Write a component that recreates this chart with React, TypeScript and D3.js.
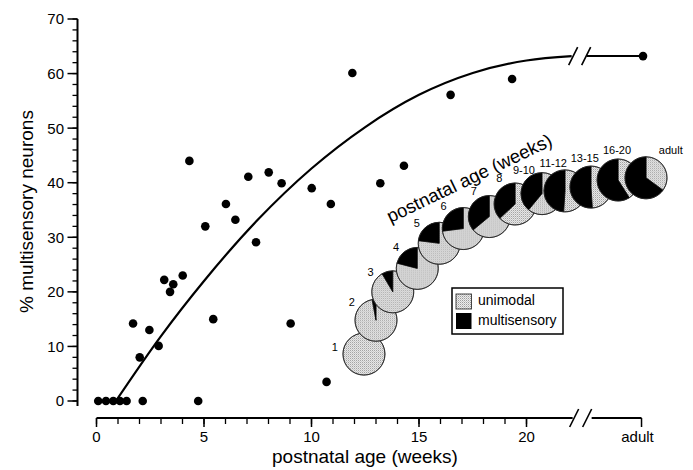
import * as d3 from "d3";
import React from "react";

// scatter points: postnatal age (weeks) and % multisensory neurons
const weeks = [0.08, 0.44, 0.78, 1.09, 1.4, 1.7, 2.01, 2.15, 2.46, 2.89, 3.15, 3.42, 3.57, 4.01, 4.32, 4.73, 5.06, 5.43, 6.02, 6.46, 7.06, 7.42, 8.01, 8.61, 9.03, 10.01, 10.7, 10.9, 11.9, 13.2, 14.3, 16.47, 19.33];
const percent = [0, 0, 0, 0, 0, 14.2, 8, 0, 13, 10.1, 22.2, 20, 21.4, 23, 44, 0, 32, 15, 36.1, 33.2, 41.1, 29.1, 41.9, 39.9, 14.2, 39, 3.5, 36.1, 60.1, 39.9, 43.1, 56.1, 59];
const adultPercent = 63.2;

// fitted curve
const fitWeeks = [0.9, 3, 5, 7.5, 10, 12.5, 15, 17.5, 20, 22.1];
const fitPercent = [0, 11.9, 22, 33.2, 42.6, 50.2, 56.1, 60.1, 62.4, 63.2];

// pie inset
const pieLabels = ["1", "2", "3", "4", "5", "6", "7", "8", "9-10", "11-12", "13-15", "16-20", "adult"];
const pieMultisensory = [0, 3, 8.5, 21, 23, 27, 36, 37, 39, 49, 51, 59, 65];

// ticks
const yMajor = [0, 10, 20, 30, 40, 50, 60, 70];
const xMajor = [0, 5, 10, 15, 20];

// inset placement (axis units), and direction of each label from its pie (degrees)
const pieAtWeek = [12.44, 13.0, 13.78, 14.92, 15.94, 17.06, 18.27, 19.47, 20.72, 21.79, 23.0, 24.26, 25.56];
const pieAtPct = [8.6, 14.8, 20.0, 24.3, 28.9, 31.6, 33.8, 36.1, 38.0, 38.5, 39.2, 40.5, 40.9];
const labelAngle = [194, 216, 222, 225, 222, 229, 239, 238, 233, 247, 258, 268, 312];

const FONT = "'Liberation Sans', Arial, sans-serif";

export default function App() {
    const width = 693, height = 470;
    const x = d3.scaleLinear().domain([0, 20]).range([96.5, 526.5]);
    const y = d3.scaleLinear().domain([0, 70]).range([401, 19]);
    const BREAK = 22.1;   // where the axis is broken
    const ADULT = 25.35;  // where "adult" sits after the break
    const xb = x(BREAK);
    const xa = x(ADULT);
    const axisY = 418;
    const axisX = 77.5;
    const r = 21;

    const line = d3.line<number>()
        .x(i => x(fitWeeks[i]))
        .y(i => y(fitPercent[i]))
        .curve(d3.curveMonotoneX);
    const fitPath = line(fitWeeks.map((_, i) => i)) || "";

    const pie = d3.pie<number>().sort(null).value(d => d);
    const arc = d3.arc<d3.PieArcDatum<number>>().innerRadius(0).outerRadius(r);

    // pie centres in pixels
    const centres = pieAtWeek.map((w, i) => [x(w), y(pieAtPct[i])]);

    const yMinor = d3.range(0, 71, 2);
    const xMinor = d3.range(0, 21, 1);

    const slash = (cx: number, cy: number, k: string) => (
        <g key={k}>
            <line x1={cx - 2} y1={cy + 9} x2={cx + 7} y2={cy - 9} stroke="#000" strokeWidth={1.6} />
            <line x1={cx + 11} y1={cy + 9} x2={cx + 20} y2={cy - 9} stroke="#000" strokeWidth={1.6} />
        </g>
    );

    return (
        <svg width={width} height={height} style={{ position: "absolute", left: 0, top: 0, background: "#fff" }}
            fontFamily={FONT}>
            <defs>
                <pattern id="stipple" width="2" height="2" patternUnits="userSpaceOnUse">
                    <rect width="2" height="2" fill="#ececec" />
                    <rect x="0" y="0" width="1" height="1" fill="#9c9c9c" />
                    <rect x="1" y="1" width="1" height="1" fill="#c6c6c6" />
                </pattern>
            </defs>

            {/* y axis */}
            <line x1={axisX} y1={y(70)} x2={axisX} y2={406} stroke="#000" strokeWidth={2} />
            {yMinor.map(v => (
                <line key={"ym" + v} x1={axisX - 5} x2={axisX} y1={y(v)} y2={y(v)} stroke="#000" strokeWidth={1.3} />
            ))}
            {yMajor.map(v => (
                <g key={"yM" + v}>
                    <line x1={axisX - 10} x2={axisX} y1={y(v)} y2={y(v)} stroke="#000" strokeWidth={1.5} />
                    <text x={64} y={y(v)} dy="0.36em" textAnchor="end" fontSize={15}>{v}</text>
                </g>
            ))}
            <text transform={`translate(33,${(110 + 313) / 2}) rotate(-90)`} textAnchor="middle" fontSize={19}>
                % multisensory neurons
            </text>

            {/* x axis, broken before adult */}
            <line x1={x(0)} y1={axisY} x2={xb + 1} y2={axisY} stroke="#000" strokeWidth={2} />
            <line x1={xb + 20} y1={axisY} x2={xa} y2={axisY} stroke="#000" strokeWidth={2} />
            {slash(xb, axisY, "xs")}
            {xMinor.map(v => (
                <line key={"xm" + v} x1={x(v)} x2={x(v)} y1={axisY} y2={axisY + 6} stroke="#000" strokeWidth={1.3} />
            ))}
            {xMajor.map(v => (
                <g key={"xM" + v}>
                    <line x1={x(v)} x2={x(v)} y1={axisY} y2={axisY + 9} stroke="#000" strokeWidth={1.5} />
                    <text x={x(v)} y={442} textAnchor="middle" fontSize={15}>{v}</text>
                </g>
            ))}
            <line x1={xa} x2={xa} y1={axisY} y2={axisY + 9} stroke="#000" strokeWidth={1.5} />
            <text x={xa - 4} y={442} textAnchor="middle" fontSize={15}>adult</text>
            <text x={365} y={463} textAnchor="middle" fontSize={19}>postnatal age (weeks)</text>

            {/* fitted curve */}
            <path d={fitPath} fill="none" stroke="#000" strokeWidth={2.2} />
            {slash(xb - 1, y(adultPercent), "cs")}
            <line x1={xb + 15} x2={xa} y1={y(adultPercent)} y2={y(adultPercent)} stroke="#000" strokeWidth={2} />

            {/* data points */}
            {weeks.map((w, i) => (
                <circle key={"p" + i} cx={x(w)} cy={y(percent[i])} r={4.3} fill="#000" />
            ))}
            <circle cx={xa + 1.5} cy={y(adultPercent)} r={4.3} fill="#000" />

            {/* pie inset */}
            {pieMultisensory.map((m, i) => {
                const slices = pie([100 - m, m]).filter(s => s.value > 0);
                const [cx, cy] = centres[i];
                return (
                    <g key={"pie" + i} transform={`translate(${cx},${cy})`}>
                        {slices.map((s, j) => (
                            <path key={j} d={arc(s) || ""} fill={s.index === 0 ? "url(#stipple)" : "#000"}
                                stroke={s.index === 0 ? "#333" : "#000"} strokeWidth={0.6} />
                        ))}
                        <circle r={r} fill="none" stroke="#222" strokeWidth={0.9} />
                    </g>
                );
            })}
            {pieLabels.map((lab, i) => {
                const a = (labelAngle[i] * Math.PI) / 180;
                const d = i === pieLabels.length - 1 ? 37 : 30;
                return (
                    <text key={"pl" + i} x={centres[i][0] + d * Math.cos(a)} y={centres[i][1] + d * Math.sin(a)}
                        dy="0.35em" textAnchor="middle" fontSize={11}>{lab}</text>
                );
            })}
            <text transform="translate(472,184) rotate(-25.6)" textAnchor="middle" fontSize={18.5}>
                postnatal age (weeks)
            </text>

            {/* legend */}
            <rect x={452} y={288} width={111} height={46} fill="#fff" stroke="#000" strokeWidth={1.5} />
            <rect x={456} y={294} width={15.5} height={15} fill="url(#stipple)" stroke="#333" strokeWidth={0.9} />
            <rect x={456} y={313} width={15.5} height={16} fill="#000" />
            <text x={478} y={305} fontSize={14}>unimodal</text>
            <text x={478} y={325} fontSize={14}>multisensory</text>
        </svg>
    );
}
